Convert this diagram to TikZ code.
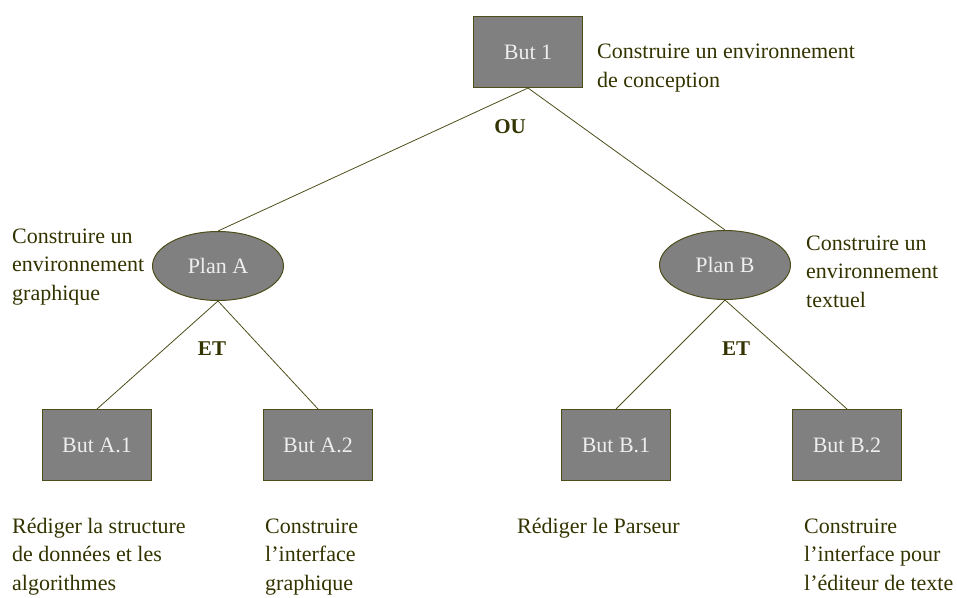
\documentclass[tikz,border=0pt]{standalone}
\usepackage{fontspec}
\setmainfont{Liberation Serif}
\usetikzlibrary{shapes.geometric}

\definecolor{boxgray}{HTML}{808080}
\definecolor{edgeol}{HTML}{4D4D1A}
\definecolor{inkol}{HTML}{333300}
\definecolor{boxtext}{HTML}{EEEEEE}

\tikzset{
  goal/.style={draw=edgeol, line width=1pt, fill=boxgray, text=boxtext, minimum width=109pt, minimum height=71pt},
  plan/.style={ellipse, draw=edgeol, line width=1pt, fill=boxgray, text=boxtext, minimum width=131pt, minimum height=69pt},
  % base of a multi-line note is its last line
  note/.style={align=left, anchor=base west, inner sep=0pt, text=inkol},
  oper/.style={font=\fontsize{21}{28}\selectfont\bfseries, text=inkol},
  link/.style={draw=edgeol, line width=0.8pt}
}

\begin{document}
\begin{tikzpicture}[x=1pt, y=-1pt, font=\fontsize{22}{28.5}\selectfont]
	%%%%% BOUNDS %%%%%
	\useasboundingbox (0,0) rectangle (957,597);
	
	%%%%% GOALS AND PLANS %%%%%
	\node[goal] (but1) at (528,52) {But 1};
	
	\node[plan] (planA) at (218,266) {Plan A};
	\node[plan] (planB) at (725,265) {Plan B};
	
	\node[goal] (butA1) at (97,445) {But A.1};
	\node[goal] (butA2) at (318,445) {But A.2};
	\node[goal] (butB1) at (616,445) {But B.1};
	\node[goal] (butB2) at (847,445) {But B.2};
	
	%%%%% LINKS %%%%%
	\draw[link] (but1.south) -- (planA.north);
	\draw[link] (but1.south) -- (planB.north);
	
	\draw[link] (planA.south) -- (butA1.north);
	\draw[link] (planA.south) -- (butA2.north);
	\draw[link] (planB.south) -- (butB1.north);
	\draw[link] (planB.south) -- (butB2.north);
	
	%%%%% OPERATORS %%%%%
	\node[oper] (ou) at (510,127) {OU};
	\node[oper] (etA) at (212,349) {ET};
	\node[oper] (etB) at (736,349) {ET};
	
	%%%%% NOTES %%%%%
	\node[note] (noteBut1) at (597,87) {Construire un environnement\\de conception};
	\node[note] (notePlanA) at (12,300) {Construire un\\environnement\\graphique};
	\node[note] (notePlanB) at (806,307) {Construire un\\environnement\\textuel};
	
	\node[note] (noteA1) at (12,590) {Rédiger la structure\\de données et les\\algorithmes};
	\node[note] (noteA2) at (265,590) {Construire\\l’interface\\graphique};
	\node[note] (noteB1) at (517,533) {Rédiger le Parseur};
	\node[note] (noteB2) at (804,590) {Construire\\l’interface pour\\l’éditeur de texte};
\end{tikzpicture}
\end{document}
